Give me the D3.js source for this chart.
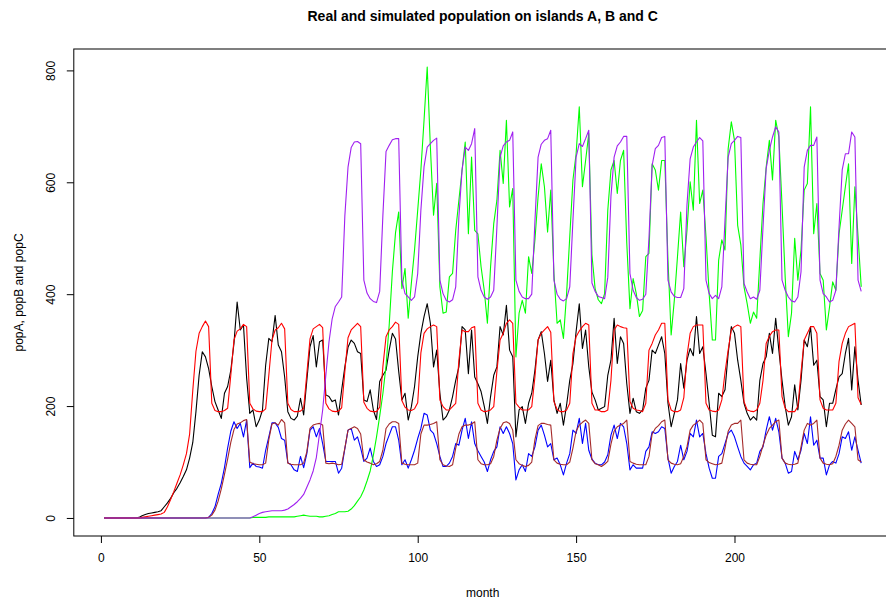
<!DOCTYPE html>
<html>
    <head>
        <meta charset="utf-8" />
        <title>Real and simulated population</title>
        <script src="https://d3js.org/d3.v7.min.js"></script>
        <style>
            body {
                margin: 0px;
                background: white;
            }

            text {
                font-family: "Liberation Sans", Arial, sans-serif;
                fill: black;
            }
        </style>
    </head>
    <body>
        <svg id="chart"></svg>
        <script>

        // monthly values, month 1 .. 240 (rows of 12 months)
        var popA = [
            0,0,0,0,0,0,0,0,0,0,0,1,
            4,6,8,9,10,11,13,20,27,35,45,53,
            63,74,86,107,135,190,255,297,288,267,235,208,
            193,178,223,235,264,312,386,336,345,250,187,193,
            163,175,193,273,321,315,362,309,297,252,190,178,
            175,182,214,184,246,306,326,270,315,318,220,217,
            208,211,184,229,270,305,318,312,297,294,211,208,
            229,193,176,244,255,264,300,330,320,262,211,223,
            175,199,235,288,330,360,383,348,270,300,223,175,
            181,193,217,246,270,342,336,258,336,252,240,226,
            200,169,217,255,270,342,327,380,300,288,145,193,
            199,169,205,223,264,318,333,294,244,282,211,187,
            205,166,202,246,276,333,383,303,336,270,225,211,
            193,196,199,255,282,357,276,324,312,240,187,214,
            190,187,193,232,246,300,294,309,324,294,205,163,
            187,211,276,232,282,303,290,360,294,306,258,205,
            148,145,223,217,229,294,342,330,282,246,205,187,
            175,181,175,246,276,288,330,294,357,300,246,199,
            166,181,238,193,246,318,306,342,273,282,217,211,
            163,205,205,230,252,258,294,321,229,306,246,202
        ];

        var simA = [
            0,0,0,0,0,0,0,0,0,0,0,0,
            1,2,3,4,5,6,7,10,20,33,47,62,
            77,95,115,150,228,298,330,342,352,342,205,192,
            190,190,192,196,255,318,334,338,346,342,205,195,
            191,190,190,195,255,318,336,340,348,338,205,194,
            190,190,191,196,258,320,338,342,346,340,205,195,
            191,190,191,197,262,322,336,342,348,342,207,196,
            191,190,190,198,270,324,336,342,350,346,210,198,
            193,192,195,206,295,330,338,342,345,342,211,199,
            193,193,199,205,282,336,333,333,340,342,205,193,
            190,191,193,199,262,318,330,348,354,348,205,198,
            193,193,193,199,252,318,330,336,342,332,208,194,
            190,190,193,205,294,324,334,342,348,345,205,193,
            193,190,190,193,246,336,345,342,340,339,208,196,
            193,192,190,205,300,312,327,336,348,348,211,193,
            190,190,193,215,290,330,342,345,345,345,205,193,
            191,190,193,211,260,300,336,342,345,342,208,193,
            191,190,193,205,246,312,325,333,336,336,217,196,
            190,190,190,199,260,318,330,342,342,330,211,196,
            193,193,193,205,280,312,330,342,345,348,215,203
        ];

        var popB = [
            0,0,0,0,0,0,0,0,0,0,0,0,
            0,0,0,0,0,0,0,0,0,0,0,0,
            0,0,0,0,0,0,0,0,0,1,8,20,
            42,62,90,125,155,172,160,169,145,175,90,98,
            92,91,89,121,145,170,170,162,142,139,99,95,
            86,83,110,90,115,157,163,145,160,133,101,101,
            101,101,80,89,124,157,160,139,145,125,101,107,
            125,101,92,95,110,133,148,163,163,139,95,104,
            89,104,121,142,160,187,184,157,151,133,110,92,
            92,98,110,133,130,157,178,142,172,133,120,110,
            100,83,104,119,127,163,151,163,151,133,68,86,
            95,83,115,110,127,157,166,148,127,133,104,107,
            95,77,98,115,157,151,178,133,169,121,105,98,
            95,95,100,113,148,166,142,169,163,133,86,95,
            89,89,89,119,127,154,151,154,163,160,107,80,
            92,101,130,104,119,151,145,175,145,151,115,89,
            71,71,110,115,133,151,157,145,127,110,98,92,
            86,95,98,119,127,157,181,157,178,154,107,98,
            80,83,119,104,121,151,133,181,130,139,107,107,
            77,95,101,98,115,145,142,154,121,145,121,98
        ];

        var simB = [
            0,0,0,0,0,0,0,0,0,0,0,0,
            0,0,0,0,0,0,0,0,0,0,0,0,
            0,0,0,0,0,0,0,0,0,1,5,14,
            30,52,78,105,135,158,168,170,174,176,100,97,
            96,95,95,98,140,168,170,166,176,170,98,96,
            95,95,95,98,118,160,166,168,169,166,98,97,
            98,97,95,96,125,157,160,163,160,150,104,100,
            98,95,97,101,121,160,168,172,172,169,98,96,
            95,95,95,98,150,166,166,167,169,172,104,95,
            93,92,95,125,150,163,166,166,168,172,104,97,
            95,95,97,110,139,160,170,172,169,157,104,97,
            94,92,94,100,140,165,169,169,167,166,104,98,
            96,95,95,100,125,155,166,171,175,169,104,97,
            95,92,96,101,132,155,163,166,169,175,101,98,
            96,95,95,95,110,150,160,165,172,175,104,98,
            96,95,97,110,127,157,166,170,175,169,104,99,
            97,95,96,98,125,155,166,169,169,175,104,98,
            96,95,95,110,130,148,160,166,172,175,107,98,
            96,95,96,98,127,157,169,166,169,175,107,98,
            96,95,97,110,130,157,168,175,169,163,104,100
        ];

        var popC = [
            0,0,0,0,0,0,0,0,0,0,0,0,
            0,0,0,0,0,0,0,0,0,0,0,0,
            0,0,0,0,0,0,0,0,0,0,0,0,
            0,0,0,0,0,0,0,0,0,0,0,1,
            1,1,1,1,2,2,2,2,2,2,2,2,
            2,3,4,5,4,3,3,3,2,2,3,4,
            6,8,11,11,11,12,16,22,30,38,50,66,
            84,112,145,182,222,272,345,440,510,547,410,446,
            357,420,479,550,622,711,806,663,541,598,413,366,
            368,431,437,514,568,622,672,508,645,514,508,449,
            407,348,449,526,568,657,598,711,556,589,288,366,
            389,366,467,437,497,574,633,592,511,586,437,348,
            354,321,401,503,604,651,735,592,639,687,470,410,
            390,383,401,550,622,639,580,639,657,491,374,428,
            401,360,371,467,473,633,622,586,639,639,461,327,
            389,467,547,449,514,601,550,711,562,586,503,401,
            318,318,461,497,479,660,708,675,523,488,413,383,
            348,368,357,461,562,627,675,604,711,681,560,430,
            324,366,500,425,479,586,598,735,508,562,437,425,
            336,377,422,407,508,550,592,633,455,592,503,413
        ];

        var simC = [
            0,0,0,0,0,0,0,0,0,0,0,0,
            0,0,0,0,0,0,0,0,0,0,0,0,
            0,0,0,0,0,0,0,0,0,0,0,0,
            0,0,0,0,0,0,0,0,0,0,0,2,
            5,8,10,11,12,13,13,13,13,14,16,20,
            24,29,35,42,55,68,84,108,150,193,255,315,
            356,378,386,395,540,627,662,672,673,669,425,402,
            392,387,385,405,540,655,666,676,678,678,425,401,
            395,389,395,437,550,628,663,669,675,679,425,401,
            389,386,390,413,538,622,663,657,669,696,431,407,
            395,391,395,407,520,645,665,672,675,690,425,405,
            395,392,392,400,530,645,668,675,678,693,425,400,
            391,388,392,413,532,645,669,664,678,693,420,405,
            396,394,392,430,575,645,665,672,682,682,437,407,
            394,389,391,400,500,630,660,666,680,682,425,404,
            396,394,394,410,560,642,663,672,680,674,425,401,
            392,398,392,413,532,645,669,675,682,680,419,404,
            392,395,391,407,520,625,657,681,699,690,425,407,
            395,388,386,395,440,627,657,666,666,681,425,401,
            395,386,389,407,520,622,651,651,690,681,425,405
        ];

        var xTicks = [0, 50, 100, 150, 200];
        var yTicks = [0, 200, 400, 600, 800];

        // drawing order as in the original plot
        var series = [
            { values: popA, color: "#000000" },
            { values: popB, color: "#0000ff" },
            { values: popC, color: "#00ff00" },
            { values: simA, color: "#ff0000" },
            { values: simB, color: "#a52a2a" },
            { values: simC, color: "#a020f0" }
        ];

        var width = 886;
        var height = 603;

        var svg = d3.select("#chart")
            .attr("width", width)
            .attr("height", height);

        // R style 4% padding round the data range
        var nMonths = popA.length;
        var xPad = (nMonths - 1) * 0.04;
        var yMax = d3.max(series, function(s) { return d3.max(s.values); });
        var yPad = yMax * 0.04;

        var x = d3.scaleLinear()
            .domain([1 - xPad, nMonths + xPad])
            .range([73.8, 891.5]);

        var y = d3.scaleLinear()
            .domain([-yPad, yMax + yPad])
            .range([536, 49]);

        var line = d3.line()
            .x(function(d, i) { return x(i + 1); })
            .y(function(d) { return y(d); });

        svg.append("g")
            .selectAll("path")
            .data(series)
            .enter().append("path")
            .attr("d", function(d) { return line(d.values); })
            .attr("fill", "none")
            .attr("stroke", function(d) { return d.color; })
            .attr("stroke-width", 1.1)
            .attr("stroke-linejoin", "round");

        // plot frame
        svg.append("rect")
            .attr("x", x.range()[0])
            .attr("y", y.range()[1])
            .attr("width", x.range()[1] - x.range()[0])
            .attr("height", y.range()[0] - y.range()[1])
            .attr("fill", "none")
            .attr("stroke", "black")
            .attr("stroke-width", 1);

        var xAxis = d3.axisBottom(x)
            .tickValues(xTicks)
            .tickSize(7)
            .tickPadding(10);
        var gx = svg.append("g")
            .attr("transform", "translate(0," + y.range()[0] + ")")
            .call(xAxis);
        gx.select(".domain").remove();
        gx.selectAll("text")
            .style("font-size", "12px")
            .style("font-family", "'Liberation Sans', Arial, sans-serif");

        var yAxis = d3.axisLeft(y)
            .tickValues(yTicks)
            .tickSize(7);
        var gy = svg.append("g")
            .attr("transform", "translate(" + x.range()[0] + ",0)")
            .call(yAxis);
        gy.select(".domain").remove();
        gy.selectAll("text")
            .attr("x", null)
            .attr("dy", null)
            .attr("transform", "translate(-19,0) rotate(-90)")
            .attr("text-anchor", "middle")
            .style("font-size", "12px")
            .style("font-family", "'Liberation Sans', Arial, sans-serif");

        svg.append("text")
            .attr("x", (x.range()[0] + x.range()[1]) / 2)
            .attr("y", 21)
            .attr("text-anchor", "middle")
            .style("font-size", "14px")
            .style("font-weight", "bold")
            .text("Real and simulated population on islands A, B and C");

        svg.append("text")
            .attr("x", (x.range()[0] + x.range()[1]) / 2)
            .attr("y", 597)
            .attr("text-anchor", "middle")
            .style("font-size", "12px")
            .text("month");

        svg.append("text")
            .attr("transform", "translate(23," + ((y.range()[0] + y.range()[1]) / 2) + ") rotate(-90)")
            .attr("text-anchor", "middle")
            .style("font-size", "12px")
            .text("popA, popB and popC");

        </script>
    </body>
</html>
